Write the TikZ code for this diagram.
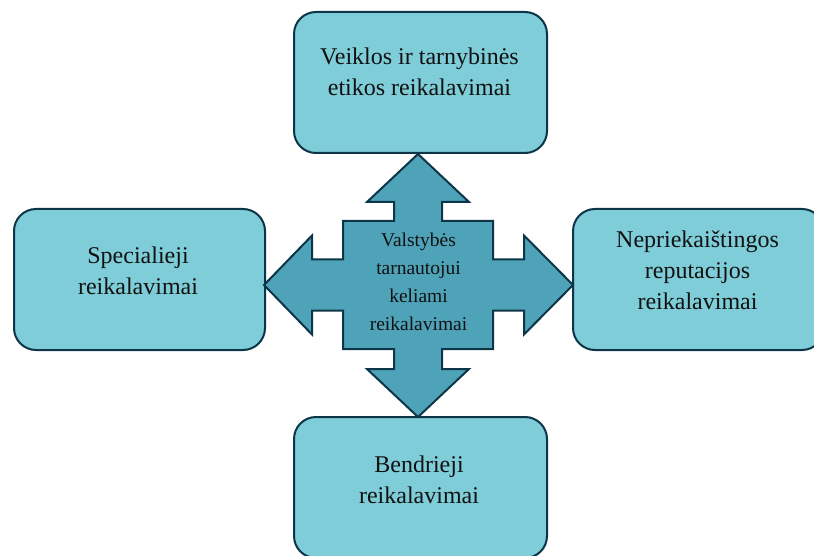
\documentclass[tikz,border=0pt]{standalone}
\usepackage{fontspec}
\setmainfont{Liberation Serif}
\definecolor{boxfill}{HTML}{7ECDD9}
\definecolor{arrowfill}{HTML}{4FA3B9}
\definecolor{edge}{HTML}{0C3547}
\definecolor{ink}{HTML}{111111}
\tikzset{
  box/.style={draw=edge, fill=boxfill, line width=2pt, rounded corners=22pt,
    minimum width=#1, minimum height=141pt, inner sep=0pt},
  boxtext/.style={align=center, text=ink, inner sep=0pt,
    font=\fontsize{24pt}{31pt}\selectfont},
  hubtext/.style={align=center, text=ink, inner sep=0pt,
    font=\fontsize{19.5pt}{28pt}\selectfont},
  arrowshape/.style={draw=edge, fill=arrowfill, line width=2pt, line join=miter}
}
\begin{document}
\begin{tikzpicture}[x=1pt, y=-1pt]
  \path[use as bounding box] (0,0) rectangle (814,556);
  \clip (0,0) rectangle (814,556);

  % four requirement boxes
  \node[box=253pt] (top)    at (420.5,82.5)  {};
  \node[box=251pt] (left)   at (139.5,279.5) {};
  \node[box=251pt] (right)  at (698.5,279.5) {};
  \node[box=253pt] (bottom) at (420.5,487.5) {};

  \node[boxtext] (toptext)    at (419.5,72)  {Veiklos ir tarnybinės\\etikos reikalavimai};
  \node[boxtext] (lefttext)   at (138,271)   {Specialieji\\reikalavimai};
  \node[boxtext] (righttext)  at (697.5,270) {Nepriekaištingos\\reputacijos\\reikalavimai};
  \node[boxtext] (bottomtext) at (419,480)   {Bendrieji\\reikalavimai};

  % four-way arrow in the middle
  \coordinate (hub) at (418,285);
  \begin{scope}[shift={(hub)}]
    \draw[arrowshape]
      (0,-131) -- (51,-83) -- (24,-83) -- (24,-64) -- (75,-64) -- (75,-25.5)
      -- (106,-25.5) -- (106,-49.5) -- (155,0) -- (106,49.5) -- (106,25.5)
      -- (75,25.5) -- (75,64) -- (24,64) -- (24,84) -- (51,84) -- (0,132)
      -- (-51,84) -- (-24,84) -- (-24,64) -- (-75,64) -- (-75,25.5)
      -- (-106,25.5) -- (-106,49.5) -- (-154,0) -- (-106,-49.5) -- (-106,-25.5)
      -- (-75,-25.5) -- (-75,-64) -- (-24,-64) -- (-24,-83) -- (-51,-83) -- cycle;
  \end{scope}
  \node[hubtext] (hubtext) at (418.5,282) {Valstybės\\tarnautojui\\keliami\\reikalavimai};
\end{tikzpicture}
\end{document}
